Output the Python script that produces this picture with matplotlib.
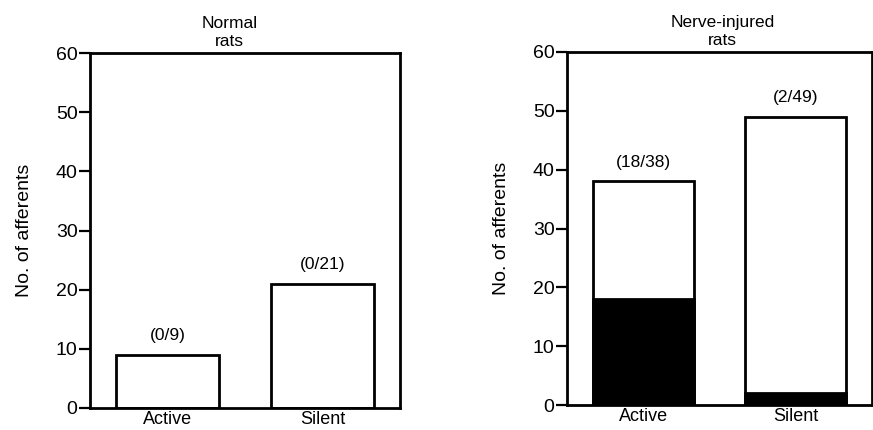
import matplotlib
matplotlib.use('Agg')
import matplotlib.pyplot as plt

plt.rcParams['font.family'] = ['Liberation Sans', 'DejaVu Sans']

categories = ['Active', 'Silent']
yticks = [0, 10, 20, 30, 40, 50, 60]

# Normal rats: total afferents / responding afferents (filled part)
normal_total = [9, 21]
normal_resp = [0, 0]

# Nerve-injured rats
injured_total = [38, 49]
injured_resp = [18, 2]

W, H = 873, 430
fig = plt.figure(figsize=(W / 100, H / 100), dpi=100)


def panel(rect, total, resp, title, title_x):
    ax = fig.add_axes(rect)
    xs = list(range(len(categories)))
    ax.bar(xs, total, width=0.66, color='white', edgecolor='black', linewidth=2, zorder=2)
    ax.bar(xs, resp, width=0.66, color='black', edgecolor='black', linewidth=2, zorder=3)
    for x, t, r in zip(xs, total, resp):
        ax.text(x, t + 2.0, '(%d/%d)' % (r, t), ha='center', va='bottom', fontsize=12.5)
    ax.set_xlim(-0.5, 1.5)
    ax.set_ylim(0, 60)
    ax.set_yticks(yticks)
    ax.set_xticks(xs)
    ax.set_xticklabels(categories, fontsize=13)
    ax.tick_params(axis='y', direction='out', length=8, width=1.6, pad=1, labelsize=14)
    ax.tick_params(axis='x', length=0, pad=2)
    for s in ax.spines.values():
        s.set_linewidth(2)
    ax.set_ylabel('No. of afferents', fontsize=14, labelpad=16)
    ax.text(title_x, 1.01, title, transform=ax.transAxes, ha='center', va='bottom',
            fontsize=12.5, linespacing=1.25)
    return ax


panel([90 / W, 22 / H, 310 / W, 355 / H], normal_total, normal_resp, 'Normal\nrats', 0.45)
panel([567 / W, 25 / H, 305 / W, 353 / H], injured_total, injured_resp, 'Nerve-injured\nrats', 0.51)

fig.savefig('out.png', dpi=100)
